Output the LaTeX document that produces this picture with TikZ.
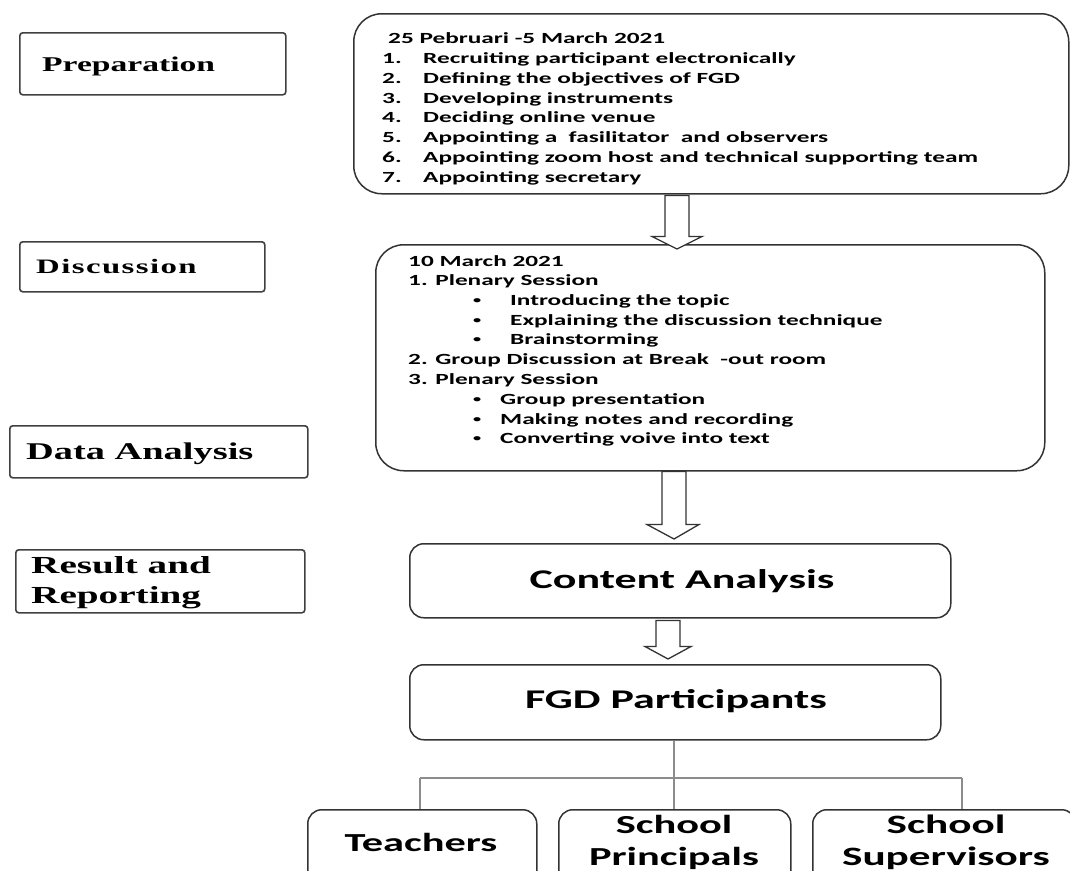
\documentclass[tikz,border=0pt]{standalone}
\usepackage{fontspec}
\newfontfamily\calfnt[FakeStretch=1.63]{Carlito}
\newfontfamily\tmsfnt[FakeStretch=1.6]{Liberation Serif}
\newfontfamily\tmsspc[FakeStretch=1.6,LetterSpace=7]{Liberation Serif}
\usetikzlibrary{calc}
\newcommand{\smbul}{\raisebox{1.5pt}{\fontsize{10}{10}\selectfont\char"2022}}
\begin{document}
\begin{tikzpicture}[x=1pt,y=-1pt,
  lbox/.style={draw=black!75, line width=1.6pt, rounded corners=3pt, fill=white, inner sep=0pt, anchor=north west},
  lbl/.style={anchor=base west, inner sep=0pt, font=\tmsfnt\bfseries\fontsize{21}{24}\selectfont},
  bigbox/.style={draw=black!80, line width=1.5pt, rounded corners=28pt, inner sep=0pt, anchor=north west},
  rbox/.style={draw=black!80, line width=1.5pt, rounded corners=14pt, inner sep=0pt, anchor=north west},
  txt/.style={anchor=base west, inner sep=0pt, font=\calfnt\bfseries\fontsize{15.5}{19.8}\selectfont},
  bigtxt/.style={inner sep=0pt, align=center, font=\calfnt\bfseries\fontsize{27}{32}\selectfont},
  barrow/.style={draw=black!80, line width=1.3pt, fill=white, line join=miter},
  branch/.style={draw=black!45, line width=1.3pt}
]
\useasboundingbox (0,0) rectangle (1070,870);
\clip (0,0) rectangle (1070,870);

% left labels
\node[lbox, minimum width=266pt, minimum height=62pt] (prep) at (19,32) {};
\node[lbl] (prept) at (42,71) {Preparation};
\node[lbox, minimum width=245pt, minimum height=50pt] (disc) at (19,241) {};
\node[lbl, font=\tmsspc\bfseries\fontsize{20.5}{24}\selectfont] (disct) at (36,273) {Discussion};
\node[lbox, minimum width=298pt, minimum height=52pt] (data) at (9,425) {};
\node[lbl, font=\tmsfnt\bfseries\fontsize{24}{28}\selectfont] (datat) at (26,459) {Data Analysis};
\node[lbox, minimum width=289pt, minimum height=63pt] (res) at (15,549) {};
\node[lbl, font=\tmsfnt\bfseries\fontsize{24.5}{28}\selectfont] (rest1) at (31,573) {Result and};
\node[lbl, font=\tmsfnt\bfseries\fontsize{24.5}{28}\selectfont] (rest2) at (31,603) {Reporting};

% box 1
\node[bigbox, minimum width=715pt, minimum height=180pt] (b1) at (353,13) {};
\node[txt] (b1h) at (388,43) {25 Pebruari -5 March 2021};
\foreach \yy/\num/\itm [count=\i] in {
  63/1./Recruiting participant electronically,
  83/2./Defining the objectives of FGD,
  103/3./Developing instruments,
  122/4./Deciding online venue,
  142/5./Appointing a~~fasilitator~~and observers,
  162/6./Appointing zoom host and technical supporting team,
  182/7./Appointing secretary}{
  \node[txt] (b1n\i) at (382,\yy) {\num};
  \node[txt] (b1t\i) at (423,\yy) {\itm};
}

% box 2
\node[bigbox, minimum width=669pt, minimum height=226pt] (b2) at (375,244) {};
\node[txt] (b2h) at (408,266) {10 March 2021};
\node[txt] (b2a) at (408,285) {1. Plenary Session};
\node[txt] (b2b) at (408,364) {2. Group Discussion at Break~~-out room};
\node[txt] (b2c) at (408,384) {3. Plenary Session};
\foreach \yy/\itm [count=\i] in {305/Introducing the topic, 325/Explaining the discussion technique, 344/Brainstorming}{
  \node[txt] (b2u\i) at (473,\yy) {\smbul};
  \node[txt] (b2v\i) at (510,\yy) {\itm};
}
\foreach \yy/\itm [count=\i] in {404/Group presentation, 424/Making notes and recording, 443/Converting voive into text}{
  \node[txt] (b2w\i) at (473,\yy) {\smbul};
  \node[txt] (b2x\i) at (500,\yy) {\itm};
}

% content analysis & participants
\node[rbox, minimum width=541pt, minimum height=74pt] (ca) at (409,543) {};
\node[bigtxt] (cat) at (682,581) {Content Analysis};
\node[rbox, minimum width=531pt, minimum height=75pt] (fgd) at (409,664) {};
\node[bigtxt] (fgdt) at (676,701) {FGD Participants};

% bottom boxes
\node[rbox, minimum width=229pt, minimum height=100pt] (tea) at (307,809) {};
\node[rbox, minimum width=232pt, minimum height=100pt] (pri) at (558,809) {};
\node[rbox, minimum width=263pt, minimum height=100pt] (sup) at (812,809) {};
\node[bigtxt, font=\calfnt\bfseries\fontsize{26}{32}\selectfont] (teat) at (421,842) {Teachers};
\node[bigtxt, font=\calfnt\bfseries\fontsize{26}{32}\selectfont] (prit) at (674,842) {School\\Principals};
\node[bigtxt, font=\calfnt\bfseries\fontsize{26.5}{32}\selectfont] (supt) at (946,842) {School\\Supervisors};

% tree
\coordinate (hl) at (420,778);
\coordinate (hr) at (962,778);
\draw[branch] (fgd.south -| 674,0) -- (pri.north -| 674,0);
\draw[branch] (hl) -- (hr);
\draw[branch] (hl) -- (hl |- tea.north);
\draw[branch] (hr) -- (hr |- sup.north);

% block arrows
\draw[barrow] ($(b1.south -| 677,0)+(-12,1)$) -- ++(0,41) -- ++(-13,0) -- ($(b2.north -| 677,0)+(0,5)$) -- ($(b1.south -| 677,0)+(25,42)$) -- ++(-13,0) -- ++(0,-41) -- cycle;
\draw[barrow] ($(b2.south -| 674,0)+(-12,0)$) -- ++(0,53) -- ++(-15,0) -- ($(ca.north -| 674,0)+(0,-4)$) -- ($(b2.south -| 674,0)+(25,53)$) -- ++(-13,0) -- ++(0,-53) -- cycle;
\draw[barrow] ($(ca.south -| 668,0)+(-12,2)$) -- ++(0,26) -- ++(-11,0) -- ($(fgd.north -| 668,0)+(0,-5)$) -- ($(ca.south -| 668,0)+(23,28)$) -- ++(-11,0) -- ++(0,-26) -- cycle;
\end{tikzpicture}
\end{document}
